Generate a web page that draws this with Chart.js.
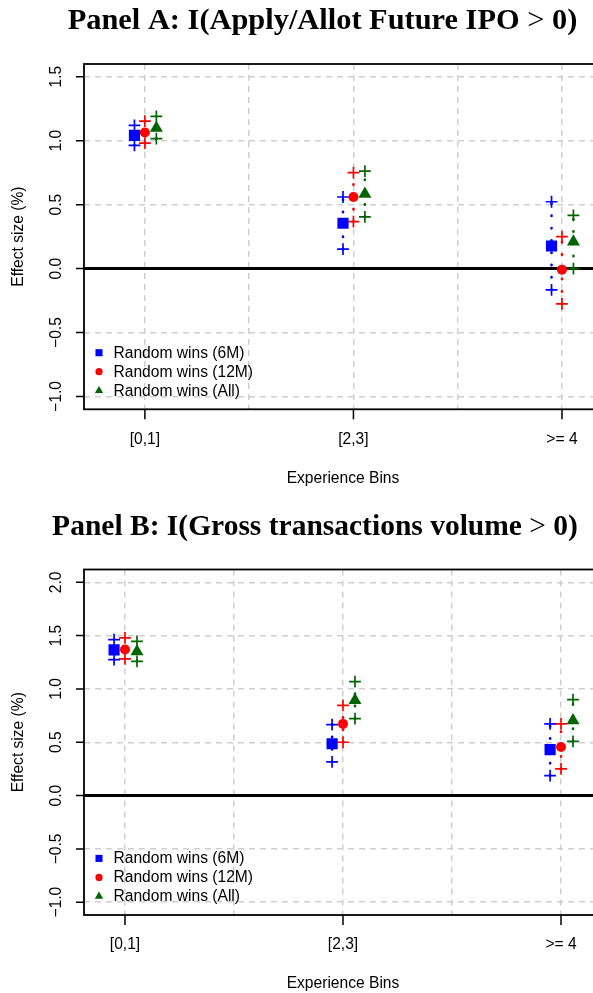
<!DOCTYPE html>
<html>
<head>
<meta charset="utf-8">
<script src="https://cdn.jsdelivr.net/npm/chart.js@4.4.0/dist/chart.umd.min.js"></script>
<style>
  body { margin: 0; background: #fff; }
  #wrap { position: relative; width: 593px; height: 993px; overflow: hidden; }
  #wrap canvas { position: absolute; left: 0; }
</style>
</head>
<body>
<div id="wrap">
  <canvas id="panel-a" width="644" height="505" style="top:0"></canvas>
  <canvas id="panel-b" width="644" height="488" style="top:505px"></canvas>
</div>
<script>
const bins = ['[0,1]', '[2,3]', '>= 4'];
const binX = [1, 2, 3];
const seriesNames = ['Random wins (6M)', 'Random wins (12M)', 'Random wins (All)'];
const seriesColors = ['#0000ff', '#ff0000', '#006400'];
const seriesShapes = ['rect', 'circle', 'triangle'];
const seriesShift = [-0.05, 0, 0.055];

// Panel A: apply / allot in a future IPO
const ipoEst6M = [1.042, 0.355, 0.177];
const ipoLo6M = [0.964, 0.152, -0.166];
const ipoHi6M = [1.12, 0.56, 0.523];
const ipoEst12M = [1.065, 0.56, -0.008];
const ipoLo12M = [0.982, 0.367, -0.276];
const ipoHi12M = [1.154, 0.75, 0.25];
const ipoEstAll = [1.10, 0.583, 0.21];
const ipoLoAll = [1.016, 0.404, 0.0];
const ipoHiAll = [1.19, 0.763, 0.417];

// Panel B: any gross transactions volume
const volEst6M = [1.366, 0.486, 0.431];
const volLo6M = [1.275, 0.316, 0.187];
const volHi6M = [1.462, 0.665, 0.672];
const volEst12M = [1.37, 0.672, 0.456];
const volLo12M = [1.281, 0.5, 0.25];
const volHi12M = [1.478, 0.846, 0.672];
const volEstAll = [1.35, 0.893, 0.705];
const volLoAll = [1.259, 0.722, 0.509];
const volHiAll = [1.446, 1.068, 0.9];

const xGrid = [1, 1.5, 2, 2.5, 3];
const yTicksA = [-1, -0.5, 0, 0.5, 1, 1.5];
const yTicksB = [-1, -0.5, 0, 0.5, 1, 1.5, 2];

const markerSize = [7.9, 5, 7.5];
const keySize = [5, 3.6, 4.8];
const SANS = '15.6px "Liberation Sans", Arial, Helvetica, sans-serif';

function fmtTick(v) {
  return v.toFixed(1).replace('-', '\u2212');
}

function buildDatasets(est, lo, hi) {
  const points = [];
  const bars = [];
  for (let s = 0; s < 3; s++) {
    const shift = seriesShift[s];
    points.push({
      label: seriesNames[s],
      data: binX.map((c, i) => ({x: c + shift, y: est[s][i]})),
      pointStyle: seriesShapes[s],
      pointRadius: markerSize[s],
      backgroundColor: seriesColors[s],
      borderWidth: 0
    });
    binX.forEach((c, i) => {
      bars.push({
        label: seriesNames[s] + ' CI',
        data: [{x: c + shift, y: lo[s][i]}, {x: c + shift, y: hi[s][i]}],
        showLine: true,
        borderColor: seriesColors[s],
        borderWidth: 2.6,
        borderCapStyle: 'round',
        borderDash: [0.4, 11.9],
        pointStyle: 'cross',
        pointRadius: 5.9,
        pointBorderWidth: 1.7,
        pointBorderColor: seriesColors[s],
        backgroundColor: seriesColors[s]
      });
    });
  }
  // estimates first so they sit on top of the interval lines
  return points.concat(bars);
}

// frame, zero line, axes text, title and key drawn the way base R plots look
const rPanel = {
  id: 'rPanel',
  beforeDatasetsDraw(chart) {
    const {ctx, chartArea: a, scales: {y}} = chart;
    const y0 = y.getPixelForValue(0);
    ctx.save();
    ctx.strokeStyle = '#000';
    ctx.lineWidth = 3;
    ctx.beginPath();
    ctx.moveTo(a.left, y0);
    ctx.lineTo(a.right, y0);
    ctx.stroke();
    ctx.restore();
  },
  afterDraw(chart, args, o) {
    const {ctx, chartArea: a, scales: {x, y}} = chart;
    ctx.save();
    ctx.setLineDash([]);
    ctx.strokeStyle = '#000';
    ctx.lineWidth = 1.8;
    ctx.strokeRect(a.left, a.top, a.right - a.left, a.bottom - a.top);

    ctx.lineWidth = 1.5;
    ctx.beginPath();
    binX.forEach(v => {
      const px = x.getPixelForValue(v);
      ctx.moveTo(px, a.bottom);
      ctx.lineTo(px, a.bottom + 10);
    });
    o.yTicks.forEach(v => {
      const py = y.getPixelForValue(v);
      ctx.moveTo(a.left - 8, py);
      ctx.lineTo(a.left, py);
    });
    ctx.stroke();

    ctx.fillStyle = '#000';
    ctx.font = SANS;
    ctx.textAlign = 'center';
    ctx.textBaseline = 'middle';
    binX.forEach((v, i) => ctx.fillText(bins[i], x.getPixelForValue(v), a.bottom + 30));
    ctx.fillText('Experience Bins', (a.left + a.right) / 2, a.bottom + 69);

    o.yTicks.forEach(v => {
      ctx.save();
      ctx.translate(a.left - 27.5, y.getPixelForValue(v));
      ctx.rotate(-Math.PI / 2);
      ctx.fillText(fmtTick(v), 0, 0);
      ctx.restore();
    });
    ctx.save();
    ctx.translate(18.5, (a.top + a.bottom) / 2);
    ctx.rotate(-Math.PI / 2);
    ctx.fillText('Effect size (%)', 0, 0);
    ctx.restore();

    // key in the lower left corner
    seriesNames.forEach((name, s) => {
      const ry = a.bottom - 56.6 + s * 19;
      ctx.fillStyle = seriesColors[s];
      Chart.helpers.drawPoint(ctx, {pointStyle: seriesShapes[s], radius: keySize[s], rotation: 0, borderWidth: 0}, a.left + 15, ry);
      ctx.fillStyle = '#000';
      ctx.textAlign = 'left';
      ctx.fillText(name, a.left + 29.5, ry + 0.5);
    });

    // title: bold text with a plain relation sign
    const serif = 'px "Liberation Serif", "Times New Roman", serif';
    const bold = 'bold ' + o.titleSize + serif;
    const plain = o.titleSize + serif;
    const parts = [[o.title[0], bold], [' > ', plain], [o.title[1], bold]];
    let total = 0;
    parts.forEach(p => { ctx.font = p[1]; total += ctx.measureText(p[0]).width; });
    let tx = o.titleX - total / 2;
    ctx.textBaseline = 'alphabetic';
    ctx.textAlign = 'left';
    parts.forEach(p => {
      ctx.font = p[1];
      ctx.fillText(p[0], tx, o.titleY);
      tx += ctx.measureText(p[0]).width;
    });
    ctx.restore();
  }
};

function makePanel(id, cfg) {
  new Chart(document.getElementById(id), {
    type: 'scatter',
    data: {datasets: buildDatasets(cfg.est, cfg.lo, cfg.hi)},
    options: {
      responsive: false,
      animation: false,
      events: [],
      layout: {padding: cfg.padding},
      plugins: {
        legend: {display: false},
        tooltip: {enabled: false},
        rPanel: {title: cfg.title, titleX: cfg.titleX, titleY: cfg.titleY, titleSize: cfg.titleSize, yTicks: cfg.yTicks}
      },
      scales: {
        x: {
          type: 'linear',
          min: cfg.xMin,
          max: cfg.xMax,
          afterBuildTicks: s => { s.ticks = xGrid.map(v => ({value: v})); },
          ticks: {display: false},
          grid: {color: '#cfcfcf', lineWidth: 1.5, drawTicks: false},
          border: {display: false, dash: [6, 5]}
        },
        y: {
          type: 'linear',
          min: cfg.yMin,
          max: cfg.yMax,
          afterBuildTicks: s => { s.ticks = cfg.yTicks.map(v => ({value: v})); },
          ticks: {display: false},
          grid: {color: '#cfcfcf', lineWidth: 1.5, drawTicks: false},
          border: {display: false, dash: [6, 5]}
        }
      }
    },
    plugins: [rPanel]
  });
}

makePanel('panel-a', {
  title: ['Panel A: I(Apply/Allot Future IPO', '0)'],
  titleX: 322.5, titleY: 29, titleSize: 30.4,
  est: [ipoEst6M, ipoEst12M, ipoEstAll],
  lo: [ipoLo6M, ipoLo12M, ipoLoAll],
  hi: [ipoHi6M, ipoHi12M, ipoHiAll],
  xMin: 0.708, xMax: 3.192,
  yMin: -1.1, yMax: 1.6,
  yTicks: yTicksA,
  padding: {left: 84, top: 64, right: 42, bottom: 95.7}
});

makePanel('panel-b', {
  title: ['Panel B: I(Gross transactions volume', '0)'],
  titleX: 315, titleY: 30, titleSize: 29.5,
  est: [volEst6M, volEst12M, volEstAll],
  lo: [volLo6M, volLo12M, volLoAll],
  hi: [volHi6M, volHi12M, volHiAll],
  xMin: 0.812, xMax: 3.188,
  yMin: -1.12, yMax: 2.12,
  yTicks: yTicksB,
  padding: {left: 84, top: 64.5, right: 42, bottom: 78}
});
</script>
</body>
</html>
